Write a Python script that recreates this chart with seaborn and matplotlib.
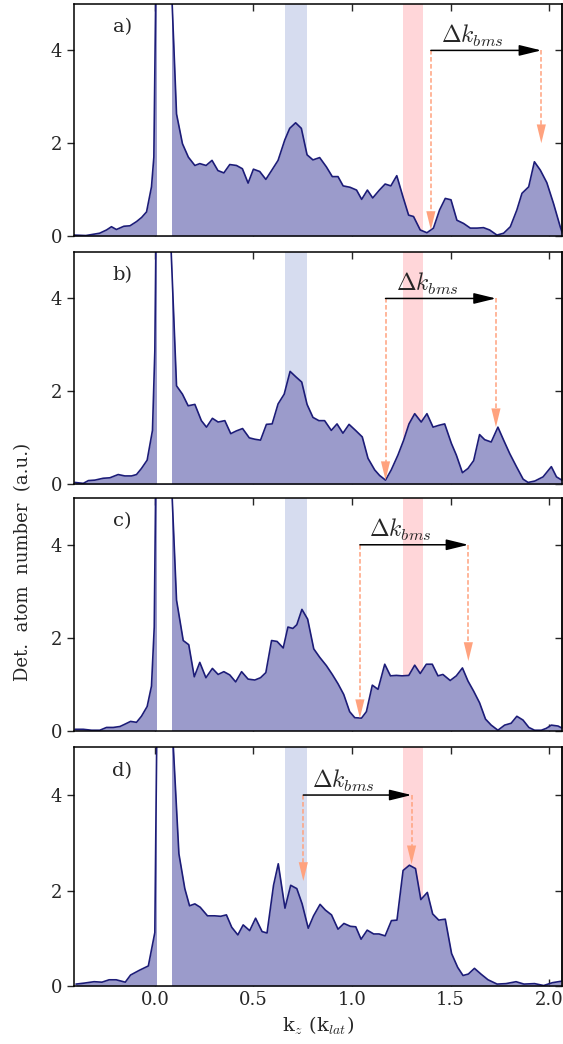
import numpy as np
import pandas as pd
import matplotlib
matplotlib.use("Agg")
import matplotlib.pyplot as plt
import seaborn as sns

# momentum k_z (k_lat) y señal detectada, un par de listas por panel
kz_a = [-0.41, -0.35, -0.28, -0.245, -0.22, -0.195, -0.157, -0.126, -0.093, -0.067, -0.042, -0.017, -0.005,
        0.045, 0.085, 0.11, 0.14, 0.17, 0.203, 0.228, 0.26, 0.29, 0.32, 0.35, 0.38, 0.414, 0.444, 0.473, 0.5,
        0.532, 0.563, 0.592, 0.625, 0.659, 0.684, 0.714, 0.743, 0.772, 0.802, 0.836, 0.87, 0.9, 0.929, 0.955,
        0.99, 1.023, 1.049, 1.078, 1.105, 1.139, 1.168, 1.197, 1.227, 1.258, 1.287, 1.312, 1.346, 1.38, 1.413,
        1.444, 1.473, 1.502, 1.532, 1.566, 1.6, 1.634, 1.667, 1.698, 1.735, 1.769, 1.803, 1.836, 1.862, 1.896,
        1.925, 1.955, 1.988, 2.022, 2.056, 2.07]
n_a = [0.02, 0.01, 0.06, 0.13, 0.2, 0.14, 0.21, 0.22, 0.31, 0.4, 0.52, 1.06, 1.7,
       20, 5.3, 2.63, 1.99, 1.7, 1.52, 1.56, 1.52, 1.63, 1.41, 1.36, 1.54, 1.52, 1.45, 1.14, 1.44,
       1.39, 1.22, 1.41, 1.63, 2.07, 2.32, 2.44, 2.32, 1.75, 1.64, 1.69, 1.49, 1.28, 1.28, 1.08,
       1.05, 0.99, 0.79, 0.99, 0.82, 0.99, 1.12, 1.08, 1.3, 0.85, 0.45, 0.42, 0.13, 0.07, 0.17,
       0.56, 0.81, 0.78, 0.34, 0.27, 0.17, 0.17, 0.18, 0.13, 0.02, 0.06, 0.2, 0.56, 0.92, 1.06,
       1.6, 1.42, 1.15, 0.7, 0.2, 0.02]

kz_b = [-0.405, -0.363, -0.337, -0.304, -0.262, -0.228, -0.186, -0.152, -0.118, -0.093, -0.068, -0.039, -0.012,
        0.0, 0.04, 0.08, 0.11, 0.14, 0.169, 0.203, 0.236, 0.262, 0.292, 0.321, 0.355, 0.385, 0.414, 0.445,
        0.479, 0.507, 0.536, 0.566, 0.595, 0.625, 0.656, 0.686, 0.716, 0.745, 0.772, 0.802, 0.832, 0.861,
        0.895, 0.924, 0.954, 0.985, 1.018, 1.052, 1.081, 1.115, 1.14, 1.17, 1.199, 1.233, 1.262, 1.289,
        1.318, 1.351, 1.38, 1.411, 1.441, 1.47, 1.504, 1.529, 1.56, 1.588, 1.617, 1.647, 1.673, 1.706,
        1.74, 1.769, 1.8, 1.834, 1.868, 1.893, 1.927, 1.969, 2.011, 2.037, 2.068]
n_b = [0.04, 0.02, 0.08, 0.09, 0.13, 0.14, 0.21, 0.18, 0.18, 0.21, 0.34, 0.52, 1.16,
       2.87, 20, 5.3, 2.12, 1.94, 1.69, 1.72, 1.37, 1.23, 1.42, 1.34, 1.37, 1.09, 1.15, 1.2,
       1.0, 0.97, 0.95, 1.29, 1.3, 1.73, 1.94, 2.43, 2.31, 2.2, 1.72, 1.44, 1.37, 1.37,
       1.16, 1.3, 1.1, 1.29, 1.16, 1.02, 0.56, 0.31, 0.19, 0.09, 0.31, 0.63, 0.95, 1.3,
       1.52, 1.34, 1.52, 1.23, 1.27, 1.3, 0.88, 0.63, 0.25, 0.34, 0.51, 1.07, 0.96, 0.91,
       1.23, 0.95, 0.66, 0.38, 0.11, 0.04, 0.07, 0.16, 0.38, 0.16, 0.08]

kz_c = [-0.405, -0.363, -0.321, -0.279, -0.245, -0.211, -0.177, -0.152, -0.123, -0.093, -0.068, -0.039, -0.017,
        -0.003, 0.04, 0.085, 0.11, 0.144, 0.172, 0.2, 0.228, 0.259, 0.292, 0.321, 0.35, 0.38, 0.41, 0.44,
        0.473, 0.507, 0.536, 0.563, 0.592, 0.62, 0.651, 0.675, 0.7, 0.72, 0.746, 0.775, 0.806, 0.836, 0.87,
        0.9, 0.929, 0.958, 0.988, 1.014, 1.048, 1.073, 1.103, 1.132, 1.166, 1.195, 1.225, 1.254, 1.288,
        1.318, 1.346, 1.377, 1.407, 1.436, 1.461, 1.498, 1.529, 1.56, 1.588, 1.617, 1.647, 1.677, 1.706,
        1.74, 1.774, 1.807, 1.836, 1.867, 1.897, 1.926, 1.96, 1.985, 2.011, 2.045, 2.068]
n_c = [0.03, 0.03, 0.01, 0.01, 0.07, 0.07, 0.09, 0.14, 0.2, 0.18, 0.31, 0.52, 0.96,
       2.23, 20, 5.3, 2.81, 1.94, 1.85, 1.16, 1.47, 1.14, 1.34, 1.21, 1.27, 1.2, 1.05, 1.27,
       1.11, 1.09, 1.14, 1.25, 1.94, 1.92, 1.78, 2.23, 2.2, 2.28, 2.61, 2.4, 1.76, 1.58, 1.4,
       1.21, 1.01, 0.78, 0.41, 0.28, 0.27, 0.41, 0.98, 0.89, 1.43, 1.18, 1.19, 1.18, 1.19,
       1.41, 1.23, 1.43, 1.43, 1.18, 1.21, 1.08, 1.18, 1.35, 1.07, 0.85, 0.6, 0.25, 0.12,
       0.01, 0.12, 0.16, 0.31, 0.23, 0.07, 0.01, 0.01, 0.05, 0.12, 0.1, 0.05]

kz_d = [-0.40, -0.359, -0.308, -0.268, -0.232, -0.196, -0.15, -0.123, -0.078, -0.033, 0.0, 0.045, 0.09,
        0.122, 0.152, 0.176, 0.203, 0.23, 0.267, 0.303, 0.334, 0.363, 0.39, 0.421, 0.448, 0.481, 0.511,
        0.544, 0.569, 0.602, 0.626, 0.66, 0.689, 0.72, 0.747, 0.778, 0.805, 0.838, 0.865, 0.896, 0.929,
        0.959, 0.992, 1.019, 1.046, 1.077, 1.11, 1.137, 1.168, 1.2, 1.228, 1.259, 1.291, 1.322, 1.349,
        1.382, 1.409, 1.44, 1.473, 1.505, 1.536, 1.563, 1.59, 1.621, 1.654, 1.69, 1.736, 1.781, 1.832,
        1.872, 1.926, 1.972, 2.017, 2.062]
n_d = [0.04, 0.06, 0.09, 0.08, 0.13, 0.13, 0.08, 0.23, 0.33, 0.42, 1.12, 20, 5.3,
       2.77, 2.04, 1.68, 1.72, 1.65, 1.47, 1.47, 1.46, 1.49, 1.23, 1.07, 1.28, 1.16, 1.42,
       1.14, 1.11, 2.11, 2.56, 1.63, 2.11, 2.04, 1.72, 1.21, 1.47, 1.71, 1.59, 1.49, 1.19,
       1.31, 1.25, 1.24, 0.98, 1.17, 1.09, 1.09, 1.05, 1.37, 1.38, 2.42, 2.53, 2.46, 1.81,
       1.96, 1.51, 1.38, 1.4, 0.68, 0.39, 0.22, 0.25, 0.37, 0.25, 0.13, 0.04, 0.05, 0.09,
       0.04, 0.05, 0.01, 0.07, 0.1]

panel_labels = ['a)', 'b)', 'c)', 'd)']

# flechas Delta k_bms: inicio, fin y altura de las puntas naranjas
dk_start = [1.40, 1.17, 1.04, 0.753]
dk_end = [1.96, 1.73, 1.59, 1.302]
tip_start = [0.13, 0.09, 0.27, 2.2]
tip_end = [2.0, 1.23, 1.5, 2.55]

# bandas sombreadas
blue_band = (0.66, 0.77)
red_band = (1.26, 1.36)
gap_band = (0.01, 0.087)

sns.set_style('ticks')
plt.rcParams['font.family'] = ['DejaVu Serif']
plt.rcParams['mathtext.fontset'] = 'cm'

line_col = '#1c1c78'
fill_col = '#9b9bcb'
orange = '#ffa27e'

fig = plt.figure(figsize=(5.63, 10.44), dpi=100)

# posiciones de los paneles medidas en pixeles (arriba, abajo)
rows = [(4, 236), (252, 484.3), (498.3, 730.7), (747.3, 986)]
left = 74 / 563
width = (562 - 74) / 563

curves = [(kz_a, n_a), (kz_b, n_b), (kz_c, n_c), (kz_d, n_d)]

axes = []
for i, (top, bot) in enumerate(rows):
    ax = fig.add_axes([left, 1 - bot / 1044, width, (bot - top) / 1044])
    axes.append(ax)
    kz, n = curves[i]
    df = pd.DataFrame({'kz': kz, 'n': n})

    ax.axvspan(*blue_band, color='#d6dcef', lw=0, zorder=0)
    ax.axvspan(*red_band, color='#ffd6d9', lw=0, zorder=0)
    ax.fill_between(df['kz'], df['n'], 0, color=fill_col, lw=0, zorder=1)
    ax.axvspan(*gap_band, color='white', lw=0, zorder=1.5)
    sns.lineplot(data=df, x='kz', y='n', ax=ax, color=line_col, lw=1.2,
                 sort=False, estimator=None, zorder=2)

    # flecha negra y flechas naranjas discontinuas
    y0 = 4.0
    ax.annotate('', xy=(dk_end[i], y0), xytext=(dk_start[i], y0),
                arrowprops=dict(arrowstyle='-|>,head_length=0.9,head_width=0.22',
                                color='black', lw=1.1, mutation_scale=15,
                                shrinkA=0, shrinkB=0), zorder=4)
    for xx, yt in [(dk_start[i], tip_start[i]), (dk_end[i], tip_end[i])]:
        ax.plot([xx, xx], [y0, yt + 0.3], color=orange, lw=1.1,
                dashes=(3, 1.6), zorder=3)
        ax.annotate('', xy=(xx, yt), xytext=(xx, yt + 0.35),
                    arrowprops=dict(arrowstyle='-|>,head_length=0.9,head_width=0.22',
                                    color=orange, lw=0, mutation_scale=15,
                                    shrinkA=0, shrinkB=0), zorder=3)
    ax.text((dk_start[i] + dk_end[i]) / 2 - 0.07, 4.03, r'$\Delta k_{bms}$',
            ha='center', va='bottom', fontsize=17, zorder=4)

    ax.text(-0.165, 4.5, panel_labels[i], ha='center', va='center', fontsize=14)

    ax.set_xlim(-0.41, 2.065)
    ax.set_ylim(0, 5)
    ax.set_yticks([0, 2, 4])
    ax.set_xticks([0.0, 0.5, 1.0, 1.5, 2.0])
    ax.set_xlabel('')
    ax.set_ylabel('')
    ax.tick_params(axis='x', direction='in', top=True, bottom=True, length=5, width=1,
                   labelsize=13)
    ax.tick_params(axis='y', direction='out', left=True, length=5, width=1, labelsize=13)
    sec = ax.secondary_yaxis('right')
    sec.set_yticks([0, 2, 4])
    sec.tick_params(direction='in', length=5, width=1, labelright=False)
    for sp in ax.spines.values():
        sp.set_linewidth(1.1)
        sp.set_color('black')
    sec.spines['right'].set_linewidth(1.1)
    if i < 3:
        ax.tick_params(axis='x', labelbottom=False)

axes[-1].set_xticklabels(['0.0', '0.5', '1.0', '1.5', '2.0'])
axes[-1].set_xlabel(r'k$_z$ (k$_{lat}$)', fontsize=14, labelpad=4)
fig.text(23 / 563, 1 - 562 / 1044, 'Det.  atom  number  (a.u.)', rotation=90,
         ha='center', va='center', fontsize=13)

fig.savefig('out.png', dpi=100)
